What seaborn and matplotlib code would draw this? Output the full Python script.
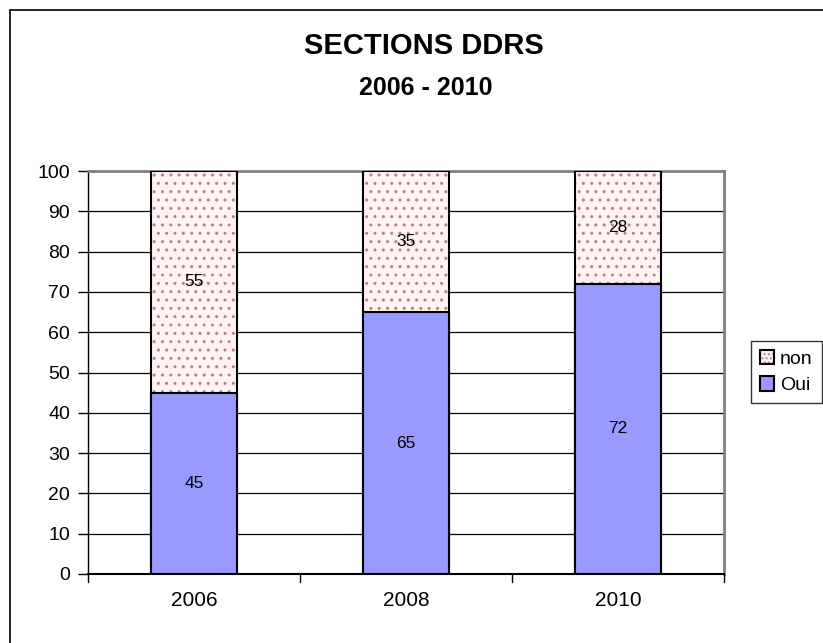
import numpy as np
import pandas as pd
import matplotlib
matplotlib.use('Agg')
import matplotlib.pyplot as plt
import seaborn as sns
from matplotlib.patches import Patch
from matplotlib.lines import Line2D

# données
annees = ['2006', '2008', '2010']
oui = [45, 65, 72]
non = [55, 35, 28]

df = pd.DataFrame({'annee': annees, 'Oui': oui, 'non': non})
df['total'] = df['Oui'] + df['non']

sns.set_style('white')
plt.rcParams['font.family'] = ['Liberation Sans', 'DejaVu Sans']
plt.rcParams['text.color'] = 'black'
plt.rcParams['hatch.linewidth'] = 1.0

fond_non = '#fff2f2'
points_non = '#b88080'
bleu = '#9999ff'

fig = plt.figure(figsize=(8.23, 6.43), dpi=100)
ax = fig.add_axes([88 / 823, 1 - 574 / 643, (724 - 88) / 823, (574 - 171) / 643])

# barre "non" empilée : on trace le total (points) puis "Oui" par-dessus
# le motif prend la couleur du bord, donc on trace le contour noir à part
sns.barplot(data=df, x='annee', y='total', ax=ax, color=fond_non, width=0.41,
            edgecolor=points_non, linewidth=0, hatch='..', saturation=1, zorder=3)
sns.barplot(data=df, x='annee', y='total', ax=ax, color='black', width=0.41,
            fill=False, linewidth=1.5, saturation=1, zorder=3.5)
sns.barplot(data=df, x='annee', y='Oui', ax=ax, color=bleu, width=0.41,
            edgecolor='black', linewidth=1.5, saturation=1, zorder=4)

for i, (o, n) in enumerate(zip(oui, non)):
    ax.text(i, o / 2, str(o), ha='center', va='center', fontsize=12.5, color='black', zorder=5)
    ax.text(i, o + n / 2, str(n), ha='center', va='center', fontsize=12.5, color='black', zorder=5)

ax.set_xlim(-0.5, 2.5)
ax.set_ylim(0, 100)
ax.set_yticks(np.arange(0, 101, 10))
ax.set_xticks([0, 1, 2])
ax.set_xticklabels(annees)
ax.set_xlabel('')
ax.set_ylabel('')
ax.tick_params(axis='y', labelsize=14, colors='black', length=7, width=1,
               direction='out', left=True, pad=6)
ax.tick_params(axis='x', labelsize=15, colors='black', length=0, pad=12)
ax.grid(axis='y', color='black', linewidth=0.9, zorder=0)
ax.set_axisbelow(True)

for s in ['top', 'right']:
    ax.spines[s].set_color('#808080')
    ax.spines[s].set_linewidth(2)
ax.spines['left'].set_color('black')
ax.spines['bottom'].set_color('black')
ax.spines['left'].set_linewidth(1)
ax.spines['bottom'].set_linewidth(1.5)

# graduations entre les catégories sur l'axe x
for xb in [-0.5, 0.5, 1.5, 2.5]:
    ax.plot([xb, xb], [0, -2], color='black', linewidth=1, clip_on=False, zorder=6)

fig.text(424 / 823, 1 - 46 / 643, 'SECTIONS DDRS', ha='center', va='center',
         fontsize=21, fontweight='bold', color='black')
fig.text(426 / 823, 1 - 88 / 643, '2006 - 2010', ha='center', va='center',
         fontsize=18, fontweight='bold', color='black')

h_non = (Patch(facecolor=fond_non, edgecolor=points_non, linewidth=0, hatch='....'),
         Patch(facecolor='none', edgecolor='black', linewidth=1.5))
h_oui = Patch(facecolor=bleu, edgecolor='black', linewidth=1.5)
leg = fig.legend(handles=[h_non, h_oui], labels=['non', 'Oui'], loc='center left',
                 bbox_to_anchor=(751 / 823, 1 - 372 / 643),
                 frameon=True, fontsize=14, handlelength=0.75, handleheight=0.75,
                 handletextpad=0.3, borderpad=0.45, labelspacing=0.45, fancybox=False,
                 borderaxespad=0)
leg.get_frame().set_edgecolor('black')
leg.get_frame().set_linewidth(1)
for t in leg.get_texts():
    t.set_color('black')

# cadre extérieur (gauche et haut)
fig.add_artist(Line2D([10 / 823, 10 / 823], [0, 1 - 10 / 643], color='black', linewidth=1.2))
fig.add_artist(Line2D([10 / 823, 1], [1 - 10 / 643, 1 - 10 / 643], color='black', linewidth=1.2))

fig.savefig('out.png', dpi=100)
